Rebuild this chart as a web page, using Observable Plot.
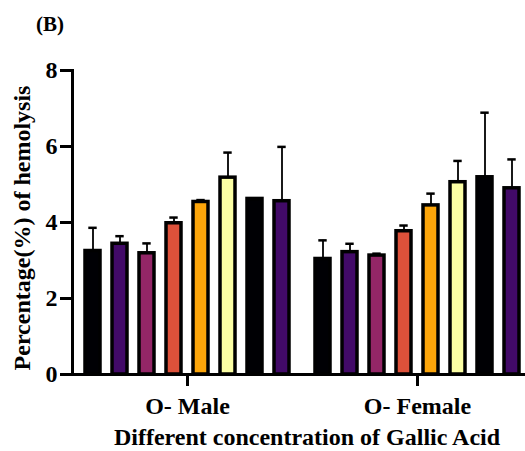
<!DOCTYPE html>
<html><head><meta charset="utf-8">
<script src="https://cdn.jsdelivr.net/npm/d3@7"></script>
<script src="https://cdn.jsdelivr.net/npm/@observablehq/plot@0.6"></script>
<style>
html,body{margin:0;padding:0;background:#fff;overflow:hidden;}
#wrap{position:relative;width:525px;height:451px;font-family:'Liberation Serif',serif;font-weight:bold;color:#000;overflow:hidden;}
.lab{position:absolute;white-space:nowrap;line-height:1;font-family:'Liberation Serif',serif;font-weight:bold;}
</style></head><body>
<div id="wrap">
<div id="chart"></div>
<div class="lab" style="left:36px;top:14px;font-size:21px;">(B)</div>
<div class="lab" style="left:22px;top:228px;font-size:24px;transform:translate(-50%,-50%) rotate(-90deg);">Percentage(%) of hemolysis</div>
<div class="lab" style="left:307px;top:425px;font-size:24px;transform:translateX(-50%);">Different concentration of Gallic Acid</div>
</div>
<script>
const groups = ["O- Male", "O- Female"];
const concentrations = ["C1", "C2", "C3", "C4", "C5", "C6", "C7", "C8"];
const colors = ["#000004", "#420a68", "#932667", "#dd513a", "#fca50a", "#fcffa4", "#000004", "#420a68"];
const maleMean = [3.25, 3.44, 3.19, 3.98, 4.54, 5.18, 4.62, 4.56];
const maleErr = [0.61, 0.20, 0.26, 0.15, 0.05, 0.66, 0.00, 1.43];
const femaleMean = [3.04, 3.22, 3.13, 3.77, 4.45, 5.06, 5.19, 4.90];
const femaleErr = [0.49, 0.22, 0.05, 0.15, 0.31, 0.56, 1.70, 0.76];
const yTicks = [0, 2, 4, 6, 8];

const rows = [];
groups.forEach((g, gi) => concentrations.forEach((c, ci) => rows.push({
  group: g, conc: c,
  mean: gi === 0 ? maleMean[ci] : femaleMean[ci],
  err: gi === 0 ? maleErr[ci] : femaleErr[ci]
})));

const serif = "'Liberation Serif', serif";

const chart = Plot.plot({
  width: 525, height: 451,
  marginLeft: 72, marginRight: -7, marginTop: 70, marginBottom: 77,
  style: {fontFamily: serif, fontWeight: "bold", fontSize: "24px", color: "#000", background: "transparent"},
  fx: {domain: groups, paddingInner: 0, paddingOuter: 0, label: null},
  x: {domain: concentrations, paddingInner: 0.46, paddingOuter: 0.45, axis: null},
  y: {domain: [0, 8], label: null},
  color: {domain: concentrations, range: colors},
  marks: [
    Plot.ruleX(rows, {fx: "group", x: "conc", y1: "mean", y2: d => d.mean + d.err, stroke: "#000", strokeWidth: 1.8}),
    Plot.barY(rows, {fx: "group", x: "conc", y: "mean", fill: "conc", stroke: "#000", strokeWidth: 3.5}),
    Plot.tickY(rows, {fx: "group", x: "conc", y: d => d.mean + d.err, stroke: "#000", strokeWidth: 2.5, insetLeft: 3.3, insetRight: 3.3}),
    Plot.ruleY([0], {stroke: "#000", strokeWidth: 3}),
    Plot.frame({anchor: "left", facetAnchor: "left", stroke: "#000", strokeWidth: 3}),
    Plot.axisY({ticks: yTicks, tickSize: 12, tickPadding: 3, strokeWidth: 3, label: null, fontSize: 24, fontFamily: serif, fontWeight: "bold"}),
    Plot.axisFx({anchor: "bottom", tickSize: 12, tickPadding: 10, strokeWidth: 3, label: null, fontSize: 24, fontFamily: serif, fontWeight: "bold"})
  ]
});
document.getElementById("chart").appendChild(chart);
</script>
</body></html>
